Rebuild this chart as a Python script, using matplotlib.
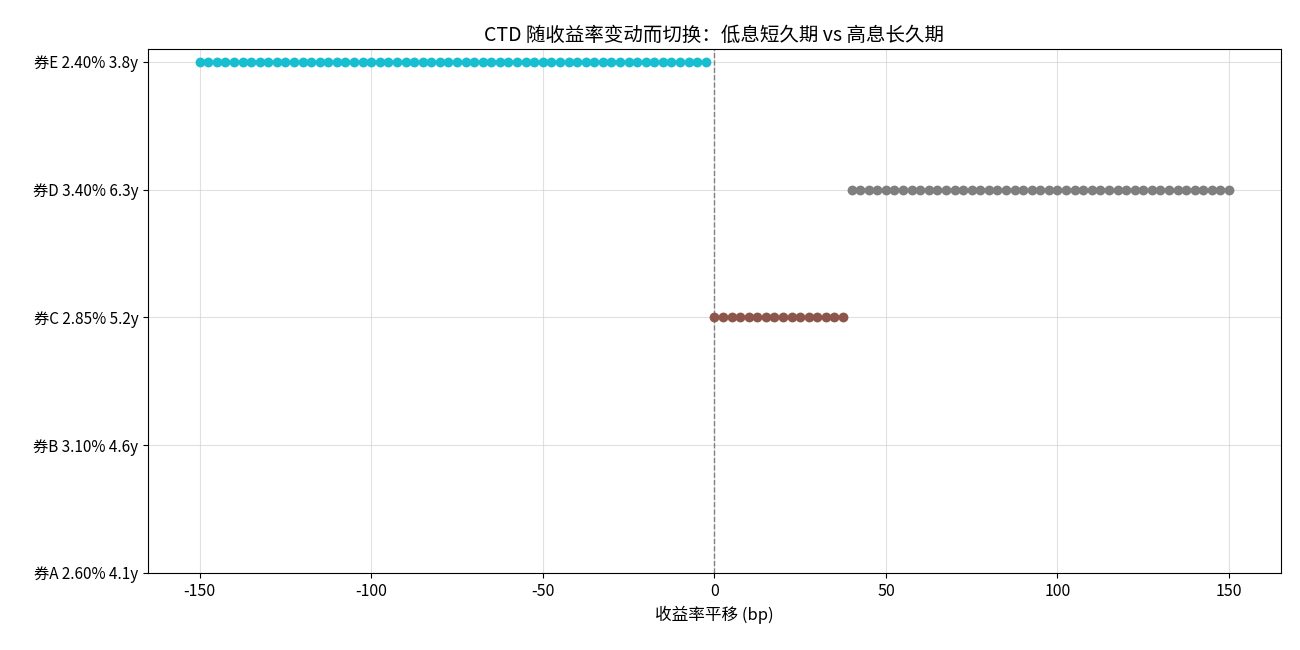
import numpy as np
import matplotlib
matplotlib.use("Agg")
import matplotlib.pyplot as plt

plt.rcParams['font.family'] = ['Noto Sans CJK SC', 'DejaVu Sans']
plt.rcParams['axes.unicode_minus'] = False

bond_labels = ["券A 2.60% 4.1y", "券B 3.10% 4.6y", "券C 2.85% 5.2y", "券D 3.40% 6.3y", "券E 2.40% 3.8y"]
bond_colors = ["#1f77b4", "#ff7f0e", "#8c564b", "#7f7f7f", "#17becf"]

# yield shift grid (bp) and CTD bond index at each shift
shifts = np.linspace(-150, 150, 121)
ctd_index = [4] * 60 + [2] * 16 + [3] * 45

title = "CTD 随收益率变动而切换：低息短久期 vs 高息长久期"
xlabel = "收益率平移 (bp)"

fig = plt.figure(figsize=(13, 6.5), dpi=100)
ax = fig.add_axes([0.114, 0.1185, 0.871, 0.806])

ctd_index = np.array(ctd_index)
for b in range(len(bond_labels)):
    m = ctd_index == b
    if m.any():
        ax.scatter(shifts[m], ctd_index[m], s=50, color=bond_colors[b], zorder=3, linewidths=0)

ax.axvline(0, color="gray", linestyle="--", linewidth=1, zorder=2)
ax.set_yticks(range(len(bond_labels)))
ax.set_yticklabels(bond_labels, fontsize=11)
ax.set_ylim(0, 4.1)
ax.set_xlim(-165, 165)
ax.set_xticks([-150, -100, -50, 0, 50, 100, 150])
ax.tick_params(axis='x', labelsize=11.5)
ax.grid(True, color="#cccccc", alpha=0.6, linewidth=0.8)
ax.set_axisbelow(True)
ax.set_xlabel(xlabel, fontsize=12)
ax.set_title(title, fontsize=14)

fig.savefig("out.png", dpi=100)
